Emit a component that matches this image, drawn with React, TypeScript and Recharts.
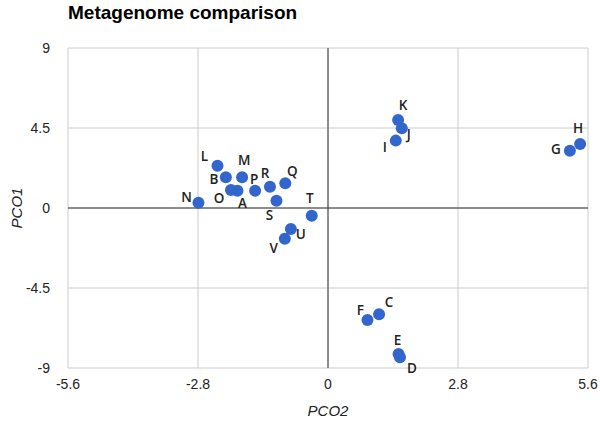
import { ScatterChart, Scatter, XAxis, YAxis, CartesianGrid, ReferenceLine, LabelList } from 'recharts';

// sample labels and their coordinates on the two principal coordinates
const samples = ['L', 'B', 'M', 'O', 'A', 'P', 'R', 'Q', 'S', 'N', 'T', 'U', 'V', 'K', 'J', 'I', 'G', 'H', 'F', 'C', 'E', 'D'];
const pco2 = [-2.38, -2.2, -1.85, -2.09, -1.95, -1.57, -1.25, -0.92, -1.11, -2.79, -0.35, -0.8, -0.93, 1.51, 1.59, 1.46, 5.21, 5.43, 0.85, 1.1, 1.52, 1.55];
const pco1 = [2.38, 1.73, 1.73, 1.01, 0.97, 0.97, 1.2, 1.39, 0.41, 0.3, -0.43, -1.18, -1.73, 4.95, 4.48, 3.79, 3.22, 3.6, -6.3, -5.98, -8.21, -8.4];

const xTicks = [-5.6, -2.8, 0, 2.8, 5.6];
const yTicks = [-9, -4.5, 0, 4.5, 9];

const data = samples.map((name, i) => ({ name, x: pco2[i], y: pco1[i] }));

// where each label sits relative to its dot (px)
const labelPos: Record<string, [number, number]> = {
  L: [-13, -10], B: [-12, 2], M: [2, -17], O: [-12, 8], A: [5, 12], P: [-1, -12],
  R: [-5, -14], Q: [7, -12], S: [-7, 14], N: [-12, -6], T: [-2, -18], U: [10, 5],
  V: [-11, 9], K: [5, -15], J: [7, 6], I: [-11, 6], G: [-14, -2], H: [-2, -16],
  F: [-7, -10], C: [10, -12], E: [-1, -14], D: [12, 11],
};

const font = 'Arial, "Liberation Sans", sans-serif';

const PointLabel = (props: any) => {
  const { x, y, width, height, value } = props;
  const [dx, dy] = labelPos[value] || [0, -12];
  return (
    <text
      x={x + width / 2 + dx}
      y={y + height / 2 + dy}
      textAnchor="middle"
      dominantBaseline="central"
      fontFamily='"Open Sans", sans-serif'
      fontWeight={600}
      fontSize={13.5}
      fill="#222"
    >
      {value}
    </text>
  );
};

const XTitle = (props: any) => {
  const vb = props.viewBox;
  return (
    <text x={vb.x + vb.width / 2} y={vb.y + 42} textAnchor="middle" dominantBaseline="central"
      fontFamily={font} fontStyle="italic" fontSize={15} fill="#222">PCO2</text>
  );
};

const YTitle = (props: any) => {
  const vb = props.viewBox;
  const cx = 16;
  const cy = vb.y + vb.height / 2;
  return (
    <text x={cx} y={cy} transform={`rotate(-90 ${cx} ${cy})`} textAnchor="middle" dominantBaseline="central"
      fontFamily={font} fontStyle="italic" fontSize={15} fill="#222">PCO1</text>
  );
};

export default function App() {
  return (
    <div style={{ position: 'absolute', left: 0, top: 0, width: 600, height: 423, background: '#fff' }}>
      <div style={{ position: 'absolute', left: 68, top: 2, fontFamily: font, fontWeight: 'bold', fontSize: 19, color: '#000' }}>
        Metagenome comparison
      </div>
      <ScatterChart width={600} height={423} margin={{ top: 48, right: 12, bottom: 0, left: 0 }}>
        <CartesianGrid stroke="#ccc" />
        <XAxis
          type="number"
          dataKey="x"
          domain={[-5.6, 5.6]}
          ticks={xTicks}
          axisLine={false}
          tickLine={false}
          tickSize={0}
          tickMargin={11}
          height={55}
          tick={{ fill: '#222', fontSize: 14, fontFamily: font }}
          label={<XTitle />}
        />
        <YAxis
          type="number"
          dataKey="y"
          domain={[-9, 9]}
          ticks={yTicks}
          axisLine={false}
          tickLine={false}
          tickSize={0}
          tickMargin={18}
          width={68}
          tick={{ fill: '#222', fontSize: 14, fontFamily: font }}
          label={<YTitle />}
        />
        <ReferenceLine x={0} stroke="#333" strokeWidth={1} />
        <ReferenceLine y={0} stroke="#333" strokeWidth={1} />
        <Scatter data={data} fill="#3366cc" isAnimationActive={false} shape={(p: any) => <circle cx={p.cx} cy={p.cy} r={6} fill="#3366cc" />}>
          <LabelList dataKey="name" content={PointLabel} />
        </Scatter>
      </ScatterChart>
    </div>
  );
}
